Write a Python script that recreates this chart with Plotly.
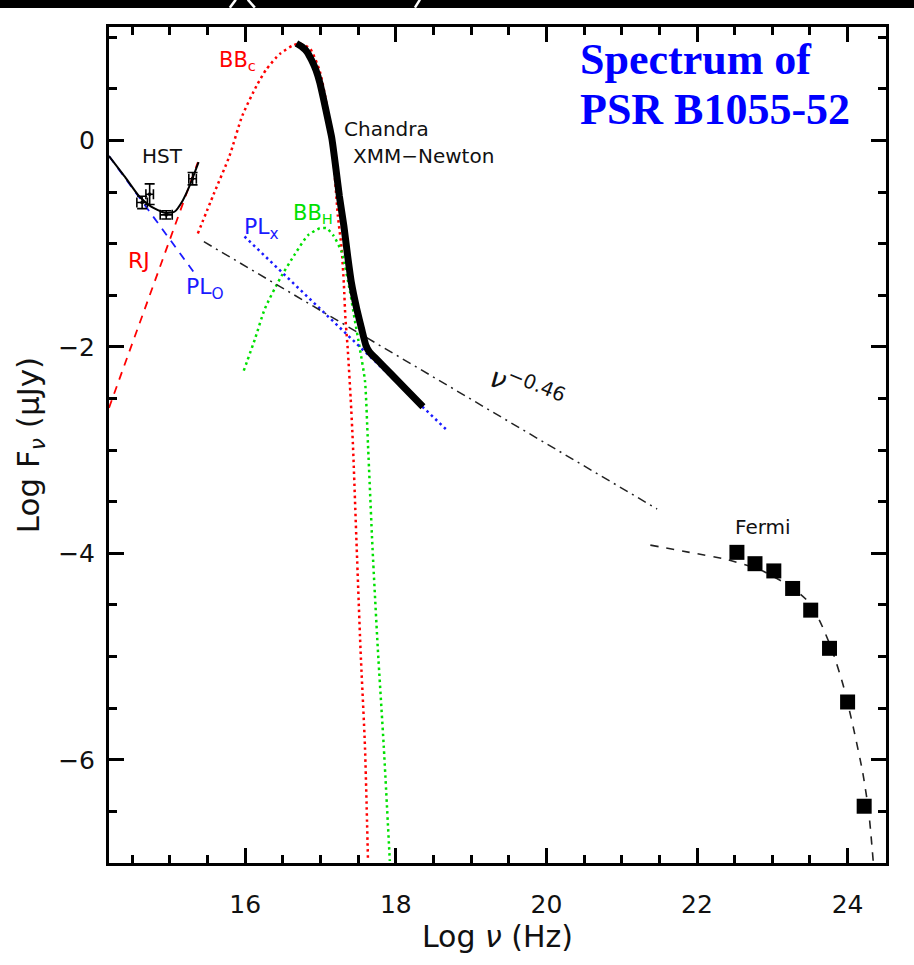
import plotly.graph_objects as go

# ---- spectral components (log10 nu [Hz], log10 F_nu [uJy]) ----
# cool blackbody
bbc_x = [15.37, 15.58, 15.79, 15.96, 16.15, 16.28, 16.46, 16.63, 16.72, 16.86, 16.99, 17.09,
         17.17, 17.23, 17.28, 17.31, 17.33, 17.36, 17.40, 17.43, 17.48, 17.53, 17.59, 17.63]
bbc_y = [-0.90, -0.52, -0.15, 0.24, 0.53, 0.69, 0.84, 0.92, 0.94, 0.89, 0.67, 0.31,
         -0.18, -0.73, -1.05, -1.40, -1.72, -2.01, -2.50, -2.95, -3.95, -4.92, -5.88, -6.98]

# hot blackbody
bbh_x = [15.98, 16.13, 16.26, 16.46, 16.66, 16.83, 16.99, 17.08, 17.17, 17.28, 17.39, 17.45,
         17.52, 17.59, 17.63, 17.69, 17.76, 17.84, 17.92]
bbh_y = [-2.23, -1.92, -1.63, -1.34, -1.10, -0.92, -0.85, -0.85, -0.92, -1.08, -1.46, -1.72,
         -2.01, -2.33, -2.95, -3.95, -4.92, -5.88, -6.98]

# X-ray power law
plx_x = [15.99, 18.67]
plx_y = [-0.93, -2.80]

# optical power law
plo_x = [14.19, 15.35]
plo_y = [-0.15, -1.31]

# Rayleigh-Jeans tail
rj_x = [14.19, 15.37]
rj_y = [-2.59, -0.21]

# Chandra / XMM-Newton spectrum
chandra_x = [16.68, 16.75, 16.82, 16.88, 16.94, 16.99, 17.04, 17.09, 17.15, 17.20, 17.25,
             17.31, 17.36, 17.41, 17.48, 17.55, 17.60, 17.65, 17.76, 17.92, 18.12, 18.36]
chandra_y = [0.94, 0.91, 0.86, 0.78, 0.68, 0.56, 0.40, 0.23, 0.02, -0.25, -0.54,
             -0.83, -1.12, -1.38, -1.63, -1.84, -1.98, -2.05, -2.13, -2.25, -2.40, -2.58]

# HST photometry and optical fit
hst_x = [14.63, 14.73, 14.95, 15.30]
hst_y = [-0.60, -0.52, -0.72, -0.37]
hst_ex = [0.07, 0.05, 0.08, 0.05]
hst_ey = [0.06, 0.10, 0.04, 0.06]
hst_fit_x = [14.19, 14.40, 14.59, 14.75, 14.93, 15.06, 15.17, 15.26, 15.38]
hst_fit_y = [-0.15, -0.35, -0.54, -0.64, -0.70, -0.69, -0.58, -0.44, -0.21]

# broadband nu^-0.46 extrapolation
pl_x = [15.45, 21.47]
pl_y = [-0.98, -3.57]

# Fermi points and cutoff fit
fermi_x = [22.53, 22.77, 23.02, 23.27, 23.51, 23.76, 24.00, 24.22]
fermi_y = [-3.99, -4.10, -4.17, -4.34, -4.55, -4.92, -5.44, -6.45]
fermi_fit_x = [21.38, 21.90, 22.40, 22.84, 23.24, 23.44, 23.62, 23.80, 23.95, 24.08, 24.20,
               24.28, 24.34]
fermi_fit_y = [-3.92, -3.99, -4.06, -4.16, -4.32, -4.44, -4.64, -4.95, -5.30, -5.70, -6.12,
               -6.50, -6.98]

RED = "#ff0000"
GREEN = "#00e000"
BLUE = "#1a1aff"
INK = "#111111"
FONT = "DejaVu Sans"

fig = go.Figure()


def line(x, y, color, width, dash, smooth=0.6):
    fig.add_trace(go.Scatter(x=x, y=y, mode="lines", showlegend=False, hoverinfo="skip",
                             line=dict(color=color, width=width, dash=dash, shape="spline",
                                       smoothing=smooth)))


line(bbc_x, bbc_y, RED, 2.5, "2.5px,3.5px")
line(bbh_x, bbh_y, GREEN, 2.5, "2.5px,3.5px")
line(plx_x, plx_y, BLUE, 2.5, "2.5px,3.5px")
line(plo_x, plo_y, BLUE, 1.8, "8px,7px")
line(rj_x, rj_y, RED, 1.8, "8px,7px")
line(pl_x, pl_y, "#222222", 1.5, "9px,5px,2px,5px")
line(fermi_fit_x, fermi_fit_y, "#222222", 1.6, "8px,8px")
line(hst_fit_x, hst_fit_y, "black", 2, "solid")
line(chandra_x, chandra_y, "black", 7, "solid", smooth=0.4)

fig.add_trace(go.Scatter(
    x=hst_x, y=hst_y, mode="markers", showlegend=False, hoverinfo="skip",
    marker=dict(color="black", size=3, symbol="square"),
    error_x=dict(type="data", array=hst_ex, color="black", thickness=1.6, width=5),
    error_y=dict(type="data", array=hst_ey, color="black", thickness=1.6, width=5),
))

fig.add_trace(go.Scatter(
    x=fermi_x, y=fermi_y, mode="markers", showlegend=False, hoverinfo="skip",
    marker=dict(color="black", size=15, symbol="square", line=dict(width=0)),
))


def label(x, y, text, color, size, anchor="center", angle=0):
    fig.add_annotation(x=x, y=y, xref="x", yref="y", text=text, showarrow=False,
                       xanchor=anchor, yanchor="middle", textangle=angle,
                       font=dict(family=FONT, size=size, color=color))


label(15.90, 0.77, "BB<sub>c</sub>", RED, 21)
label(14.90, -0.15, "HST", INK, 20)
label(14.59, -1.16, "RJ", RED, 22)
label(15.46, -1.43, "PL<sub>O</sub>", BLUE, 22)
label(16.22, -0.85, "PL<sub>x</sub>", BLUE, 22)
label(16.90, -0.71, "BB<sub>H</sub>", GREEN, 21)
label(17.29, 0.11, "Chandra", INK, 20, anchor="left")
label(17.41, -0.15, "XMM\u2212Newton", INK, 20, anchor="left")
label(22.88, -3.74, "Fermi", INK, 20)
label(19.74, -2.40, "<i>\u03bd</i><sup>\u22120.46</sup>", INK, 28, angle=22)

# heading
for txt, yy in (("Spectrum of", 0.961), ("PSR B1055-52", 0.901)):
    fig.add_annotation(x=0.604, y=yy, xref="paper", yref="paper", text=txt, showarrow=False,
                       xanchor="left", yanchor="middle",
                       font=dict(family="Liberation Serif", size=44, color="#0000ff",
                                 weight="bold"))

# dark strip along the top edge
fig.add_shape(type="rect", xref="paper", yref="paper", x0=-0.2, x1=1.1,
              y0=1 + 19 / 836, y1=1 + 30 / 836, fillcolor="black", line_width=0, layer="above")
for (a, b, c, d) in ((230, 8, 236, 0), (248, 0, 255, 8), (415, 8, 420, 0)):
    fig.add_shape(type="line", xref="paper", yref="paper",
                  x0=(a - 109.3) / 776.4, x1=(c - 109.3) / 776.4,
                  y0=1 + (27.3 - b) / 835.7, y1=1 + (27.3 - d) / 835.7,
                  line=dict(color="white", width=2.5), layer="above")

axis_common = dict(
    showline=True, linewidth=3, linecolor="black", mirror="ticks",
    ticks="inside", ticklen=15, tickwidth=3, tickcolor="black",
    showgrid=False, zeroline=False,
    minor=dict(ticks="inside", ticklen=8, tickwidth=3, tickcolor="black", dtick=0.5,
               showgrid=False),
    tickfont=dict(family=FONT, size=25, color=INK),
)

fig.update_xaxes(range=[14.19, 24.51], tickmode="linear", tick0=16, dtick=2,
                 ticklabelstandoff=17,
                 title=dict(text="Log <i>\u03bd</i> (Hz)", standoff=5,
                            font=dict(family=FONT, size=30, color=INK)),
                 **axis_common)
fig.update_yaxes(range=[-7.0, 1.1], tickmode="linear", tick0=0, dtick=2,
                 ticklabelstandoff=6,
                 title=dict(text="Log F<sub><i>\u03bd</i></sub> (\u03bcJy)", standoff=10,
                            font=dict(family=FONT, size=31, color=INK)),
                 **axis_common)

fig.update_layout(
    width=914, height=965,
    margin=dict(l=109, r=28, t=27, b=102),
    paper_bgcolor="white", plot_bgcolor="white",
    showlegend=False,
)

fig.write_html("out.html")
